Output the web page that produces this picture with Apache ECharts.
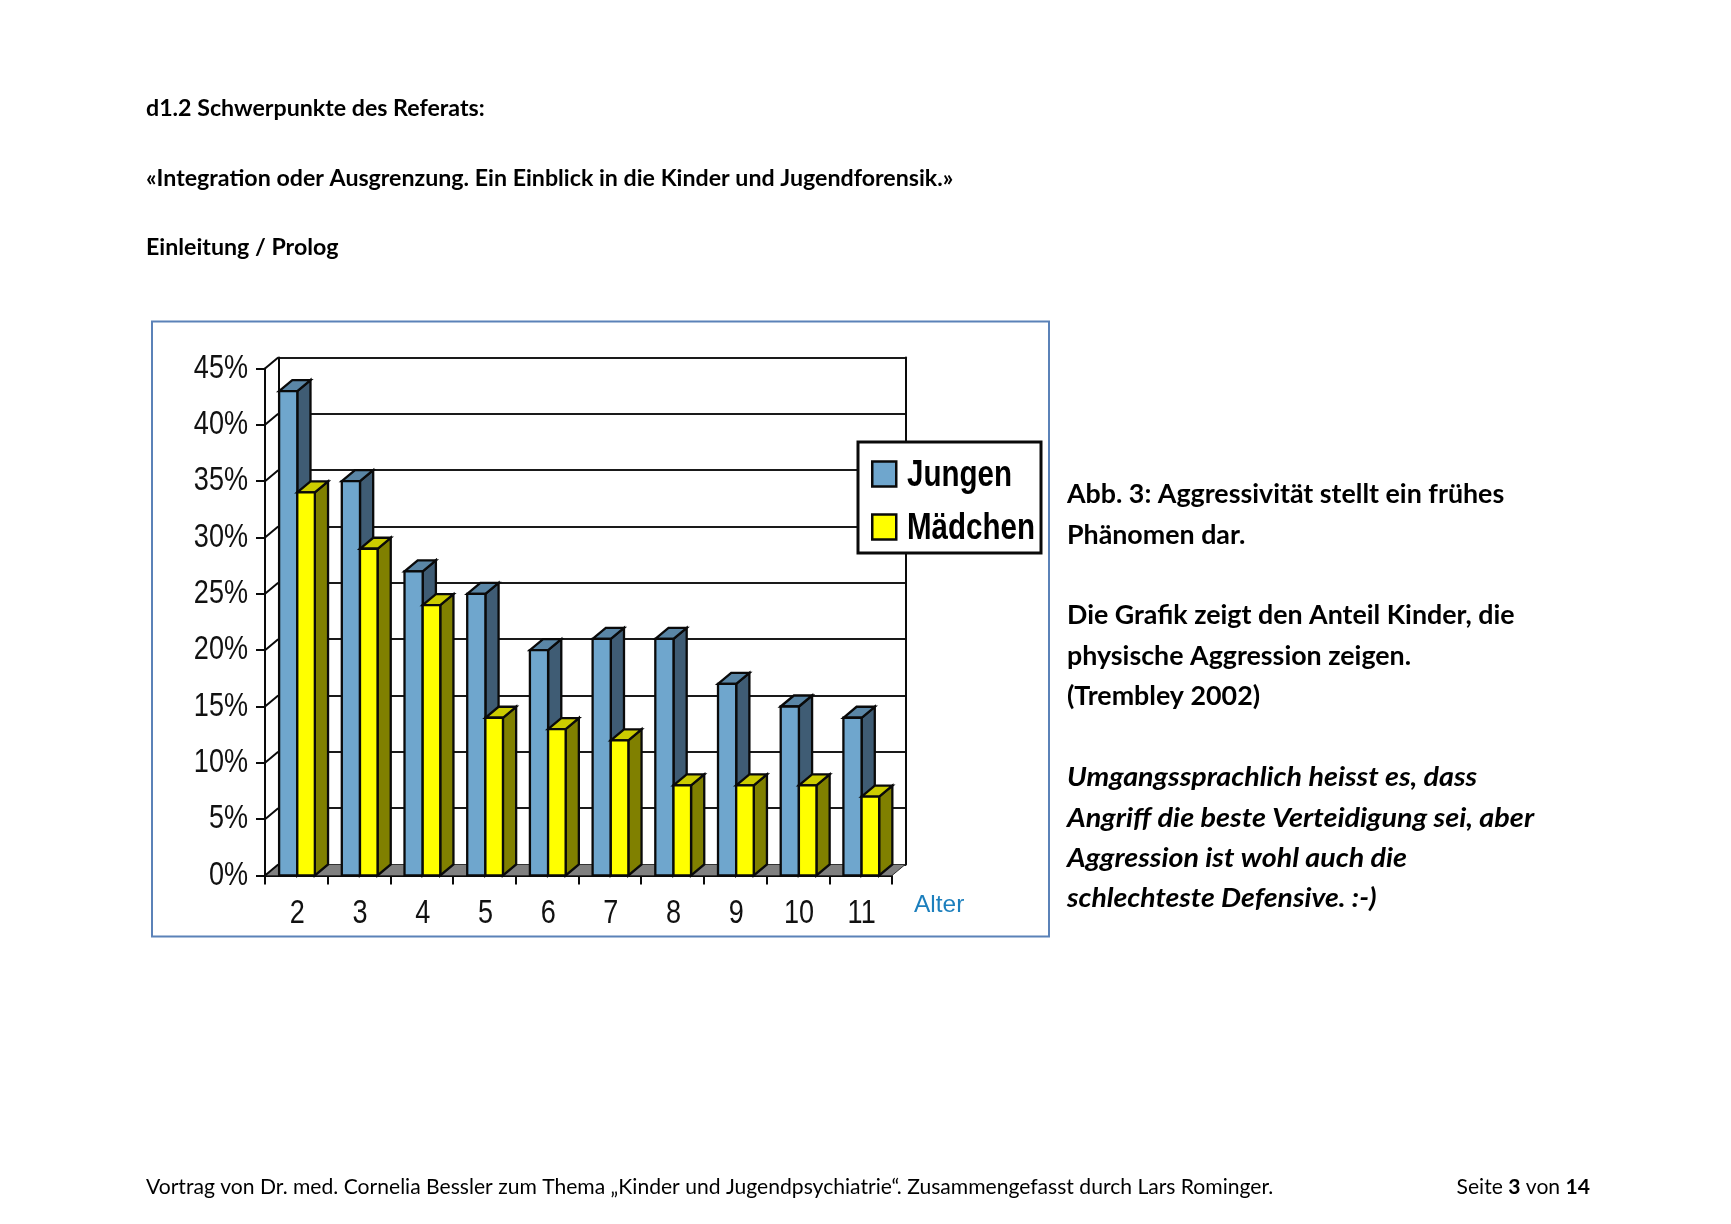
<!DOCTYPE html>
<html><head><meta charset="utf-8">
<style>html,body{margin:0;padding:0;background:#fff}#c{width:1731px;height:1224px}</style>
<script src="https://cdn.jsdelivr.net/npm/echarts@6/dist/echarts.min.js"></script>
</head><body><div id="c"></div>
<script>
const ages = ['2','3','4','5','6','7','8','9','10','11'];
const jungen = [43,35,27,25,20,21,21,17,15,14];
const maedchen = [34,29,24,14,13,12,8,8,8,7];
const yTicks = [0,5,10,15,20,25,30,35,40,45];

const NARROW = '"Liberation Sans",sans-serif';
const BODY = 'Lato,"Open Sans",sans-serif';
const DX = 13.2, DY = -11;
const BLACK = '#0a0a0a';
const outline = {stroke: BLACK, lineWidth: 2.3, lineJoin: 'miter'};

function box3d(x0, x1, y0, y1, front, top, side){
  const pf = (pts, fill) => ({type:'polygon', shape:{points:pts}, style:Object.assign({fill}, outline)});
  return [
    pf([[x1,y1],[x1+DX,y1+DY],[x1+DX,y0+DY],[x1,y0]], side),
    pf([[x0,y1],[x0+DX,y1+DY],[x1+DX,y1+DY],[x1,y1]], top),
    pf([[x0,y0],[x1,y0],[x1,y1],[x0,y1]], front)
  ];
}
function barSeries(name, values, f0, f1, front, top, side, z){
  return {
    type:'custom', name, xAxisIndex:0, yAxisIndex:0, z,
    itemStyle:{color:front, borderColor:BLACK, borderWidth:2.5},
    encode:{x:0,y:1},
    data: ages.map((a,i)=>[a, values[i]]),
    renderItem(params, api){
      const base = api.coord([api.value(0), 0]);
      const p = api.coord([api.value(0), api.value(1)]);
      const w = api.size([1,0])[0];
      const left = base[0]-w/2;
      return {type:'group', children: box3d(left+w*f0, left+w*f1, base[1], p[1], front, top, side)};
    }
  };
}
const txt = (text,x,y,size,weight,style,scaleX) => ({type:'text', x, y, scaleX:scaleX||1, silent:true,
  style:{text, fill:'#000', font:`${style||'normal'} ${weight||'normal'} ${size}px ${BODY}`, textVerticalAlign:'middle'}});

const T1 = 23.2, T2 = 26.8, T3 = 21.1;
const option = {
  animation:false,
  backgroundColor:'#fff',
  legend:{
    left:871, top:456, orient:'vertical', icon:'rect',
    padding:0, itemGap:17, itemWidth:24, itemHeight:25,
    itemStyle:{borderColor:BLACK,borderWidth:2.5},
    textStyle:{fontFamily:NARROW, fontWeight:'bold', fontSize:36, color:'#000', padding:[0,0,0,7]},
    data:['Jungen','Mädchen'], selectedMode:false, z:20
  },
  grid:[
    {left:265, top:368.5, width:627, height:507},
    {left:279, top:357.5, width:627, height:507}
  ],
  xAxis:[
    {type:'category', gridIndex:0, data:ages, boundaryGap:true,
     axisLine:{lineStyle:{color:BLACK,width:2}},
     axisTick:{show:true,alignWithLabel:false,length:9,lineStyle:{color:BLACK,width:2}},
     axisLabel:{fontFamily:NARROW,fontSize:33,color:'#111',margin:22}},
    {type:'category', gridIndex:1, data:ages, axisLine:{show:false}, axisTick:{show:false}, axisLabel:{show:false}}
  ],
  yAxis:[
    {type:'value', gridIndex:0, min:0, max:45, interval:5,
     axisLine:{show:true,lineStyle:{color:BLACK,width:2}},
     axisTick:{show:true,length:9,lineStyle:{color:BLACK,width:2}},
     splitLine:{show:false},
     axisLabel:{fontFamily:NARROW,fontSize:33,color:'#111',margin:17,formatter:'{value}%'}},
    {type:'value', gridIndex:1, min:0, max:45, interval:5, position:'left',
     axisLine:{show:true,lineStyle:{color:BLACK,width:2}}, axisTick:{show:false}, axisLabel:{show:false},
     splitLine:{show:true,lineStyle:{color:'#1a1a1a',width:2}}},
    {type:'value', gridIndex:1, min:0, max:45, interval:5, position:'right',
     axisLine:{show:true,onZero:false,lineStyle:{color:BLACK,width:2}}, axisTick:{show:false}, axisLabel:{show:false}, splitLine:{show:false}}
  ],
  series:[
    {type:'custom', xAxisIndex:0, yAxisIndex:0, z:1, silent:true, data:[[0,0]],
     encode:{x:0,y:1},
     renderItem(params,api){
       const w = api.size([1,0])[0];
       const a = api.coord([ages[0],0]), b = api.coord([ages[ages.length-1],0]);
       const l = a[0]-w/2, r = b[0]+w/2, y = a[1];
       return {type:'polygon', shape:{points:[[l,y],[r,y],[r+DX,y+DY],[l+DX,y+DY]]},
               style:{fill:'#808080', stroke:'#333', lineWidth:1}};
     }},
    {type:'custom', xAxisIndex:0, yAxisIndex:0, z:2, silent:true,
     data: yTicks.map(t=>[ages[0],t]), encode:{x:0,y:1},
     renderItem(params,api){
       const w = api.size([1,0])[0];
       const p = api.coord([api.value(0),api.value(1)]);
       const l = p[0]-w/2;
       return {type:'line', shape:{x1:l,y1:p[1],x2:l+DX,y2:p[1]+DY}, style:{stroke:BLACK,lineWidth:2}};
     }},
    barSeries('Jungen', jungen, 0.225, 0.515, '#6fa6cd', '#5a86a6', '#3f5c74', 5),
    barSeries('Mädchen', maedchen, 0.515, 0.795, '#ffff00', '#cccc00', '#808000', 6),
    {type:'line', xAxisIndex:1, yAxisIndex:1, data:[], silent:true},
    {type:'line', xAxisIndex:1, yAxisIndex:2, data:[], silent:true}
  ],
  graphic:{elements:[
    {type:'rect', shape:{x:152,y:321.5,width:897,height:615}, style:{fill:'none',stroke:'#5b82b8',lineWidth:2}, silent:true, z:-10},
    {type:'rect', shape:{x:858,y:442,width:183,height:111}, style:{fill:'#fff',stroke:BLACK,lineWidth:3}, silent:true, z:15},
    {type:'text', x:914, y:905, silent:true, style:{text:'Alter', fill:'#1c7fbd', font:'24.5px "Liberation Sans",sans-serif', textVerticalAlign:'middle'}},
    txt('d1.2 Schwerpunkte des Referats:',146,109,T1,'bold'),
    txt('«Integration oder Ausgrenzung. Ein Einblick in die Kinder und Jugendforensik.»',146,179,T1,'bold'),
    txt('Einleitung / Prolog',146,248,T1,'bold'),
    txt('Abb. 3: Aggressivität stellt ein frühes',1067,494,T2,'bold'),
    txt('Phänomen dar.',1067,535,T2,'bold'),
    txt('Die Grafik zeigt den Anteil Kinder, die',1067,615,T2,'bold'),
    txt('physische Aggression zeigen.',1067,656,T2,'bold'),
    txt('(Trembley 2002)',1067,696,T2,'bold'),
    txt('Umgangssprachlich heisst es, dass',1067,777,T2,'bold','italic',1.07),
    txt('Angriff die beste Verteidigung sei, aber',1067,818,T2,'bold','italic',1.075),
    txt('Aggression ist wohl auch die',1067,858,T2,'bold','italic',1.07),
    txt('schlechteste Defensive. :-)',1067,898,T2,'bold','italic',1.06),
    txt('Vortrag von Dr. med. Cornelia Bessler zum Thema „Kinder und Jugendpsychiatrie“. Zusammengefasst durch Lars Rominger.',146,1187,T3),
    {type:'text', x:1590, y:1187, silent:true, style:{
      text:'Seite {b|3} von {b|14}', textAlign:'right', textVerticalAlign:'middle',
      font:`${T3}px ${BODY}`, fill:'#000', rich:{b:{font:`bold ${T3}px ${BODY}`,fill:'#000'}}}}
  ]}
};
const chart = echarts.init(document.getElementById('c'));
chart.setOption(option);

// The original uses a condensed Arial; squeeze the chart's own axis and legend labels to match.
const axisTexts = new Set([...ages, ...yTicks.map(t=>t+'%')]);
const legendTexts = new Set(['Jungen', 'Mädchen']);
const zr = chart.getZr();
const condense = el => {
  if (el.type !== 'text' || !el.style) return;
  const isLegend = legendTexts.has(el.style.text);
  if (!isLegend && !axisTexts.has(el.style.text)) return;
  el.originX = el.style.x || 0;
  el.originY = el.style.y || 0;
  el.scaleX = 0.82;
  if (isLegend) el.y = (el.y || 0) + 2.5;
  else if (/^\d+$/.test(el.style.text)) el.x = (el.x || 0) + 1;
  el.markRedraw();
};
zr.storage.getRoots().forEach(r => { condense(r); if (r.traverse) r.traverse(condense); });
zr.refreshImmediately();
</script></body></html>
